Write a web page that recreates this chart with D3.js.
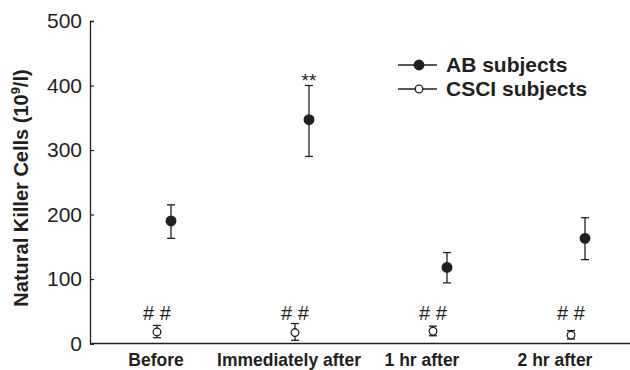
<!DOCTYPE html>
<html>
<head>
<meta charset="utf-8">
<script src="https://cdn.jsdelivr.net/npm/d3@7"></script>
<style>
body { margin: 0; background: #fff; }
text { font-family: "Liberation Sans", Arial, sans-serif; fill: #231f20; }
</style>
</head>
<body>
<svg width="630" height="370"></svg>
<script>
var categories = ["Before", "Immediately after", "1 hr after", "2 hr after"];
var abMean = [190, 347, 118, 163];
var abLow = [163, 290, 94, 130];
var abHigh = [215, 400, 141, 195];
var csciMean = [18, 17, 19, 13];
var csciLow = [9, 5, 12, 7];
var csciHigh = [28, 31, 27, 20];
var yTicks = [0, 100, 200, 300, 400, 500];
var csciMarks = ["# #", "# #", "# #", "# #"];
var abMarks = ["", "**", "", ""];

var svg = d3.select("svg");
var ink = "#231f20";

// scales
var y = d3.scaleLinear().domain([0, 500]).range([343.5, 21]);
var x = d3.scalePoint().domain(categories).range([164, 578]);
var xLabel = d3.scalePoint().domain(categories).range([156, 555]);
var off = 7;

// y axis, ticks pointing inward
var yAxis = d3.axisLeft(y).tickValues(yTicks).tickSize(-4).tickPadding(8);
var gy = svg.append("g").attr("transform", "translate(90,0)").call(yAxis);
gy.select(".domain").attr("stroke", ink).attr("stroke-width", 1.3);
gy.selectAll(".tick line").attr("stroke", ink).attr("stroke-width", 1.2);
gy.selectAll(".tick text").style("font-size", "21px").attr("fill", ink)
  .style("font-family", "'Liberation Sans', Arial, sans-serif");

// x axis: baseline only, labels below
svg.append("line")
  .attr("x1", 90).attr("x2", 630)
  .attr("y1", y(0)).attr("y2", y(0))
  .attr("stroke", ink).attr("stroke-width", 1.5);

svg.selectAll(".xlab").data(categories).enter().append("text")
  .attr("x", function(d) { return xLabel(d); })
  .attr("y", 366)
  .attr("text-anchor", "middle")
  .style("font-size", "17.5px").style("font-weight", "bold")
  .text(function(d) { return d; });

// y title
var title = svg.append("text")
  .attr("transform", "translate(28,188) rotate(-90)")
  .attr("text-anchor", "middle")
  .style("font-size", "20px").style("font-weight", "bold");
title.append("tspan").text("Natural Killer Cells (10");
title.append("tspan").attr("dy", -8).style("font-size", "13px").text("9");
title.append("tspan").attr("dy", 8).text("/l)");

function drawSeries(mean, low, high, dx, filled, r) {
  var rows = categories.map(function(c, i) {
    return { c: c, m: mean[i], lo: low[i], hi: high[i] };
  });
  var g = svg.append("g");
  var e = g.selectAll("g").data(rows).enter().append("g");
  e.append("line")
    .attr("x1", function(d) { return x(d.c) + dx; })
    .attr("x2", function(d) { return x(d.c) + dx; })
    .attr("y1", function(d) { return y(d.lo); })
    .attr("y2", function(d) { return y(d.hi); })
    .attr("stroke", ink).attr("stroke-width", 1.3);
  ["lo", "hi"].forEach(function(k) {
    e.append("line")
      .attr("x1", function(d) { return x(d.c) + dx - 4; })
      .attr("x2", function(d) { return x(d.c) + dx + 4; })
      .attr("y1", function(d) { return y(d[k]); })
      .attr("y2", function(d) { return y(d[k]); })
      .attr("stroke", ink).attr("stroke-width", 1.3);
  });
  e.append("circle")
    .attr("cx", function(d) { return x(d.c) + dx; })
    .attr("cy", function(d) { return y(d.m); })
    .attr("r", r)
    .attr("fill", filled ? ink : "#fff")
    .attr("stroke", ink).attr("stroke-width", 1.3);
}

drawSeries(csciMean, csciLow, csciHigh, -off, false, 3.8);
drawSeries(abMean, abLow, abHigh, off, true, 4.8);

// significance marks
svg.selectAll(".hash").data(categories).enter().append("text")
  .attr("x", function(d) { return x(d) - off; })
  .attr("y", 320)
  .attr("text-anchor", "middle")
  .style("font-size", "20px")
  .text(function(d, i) { return csciMarks[i]; });

svg.selectAll(".star").data(categories).enter().append("text")
  .attr("x", function(d) { return x(d) + off; })
  .attr("y", function(d, i) { return y(abHigh[i]) + 1; })
  .attr("text-anchor", "middle")
  .style("font-size", "19px")
  .text(function(d, i) { return abMarks[i]; });

// legend
var legend = [
  { name: "AB subjects", filled: true, r: 4.8, yy: 65 },
  { name: "CSCI subjects", filled: false, r: 3.8, yy: 89 }
];
var lg = svg.selectAll(".lg").data(legend).enter().append("g");
lg.append("line")
  .attr("x1", 398).attr("x2", 437)
  .attr("y1", function(d) { return d.yy; }).attr("y2", function(d) { return d.yy; })
  .attr("stroke", ink).attr("stroke-width", 1.3);
lg.append("circle")
  .attr("cx", 419).attr("cy", function(d) { return d.yy; })
  .attr("r", function(d) { return d.r; })
  .attr("fill", function(d) { return d.filled ? ink : "#fff"; })
  .attr("stroke", ink).attr("stroke-width", 1.3);
lg.append("text")
  .attr("x", 446).attr("y", function(d) { return d.yy + 7; })
  .style("font-size", "21px").style("font-weight", "bold")
  .text(function(d) { return d.name; });
</script>
</body>
</html>
